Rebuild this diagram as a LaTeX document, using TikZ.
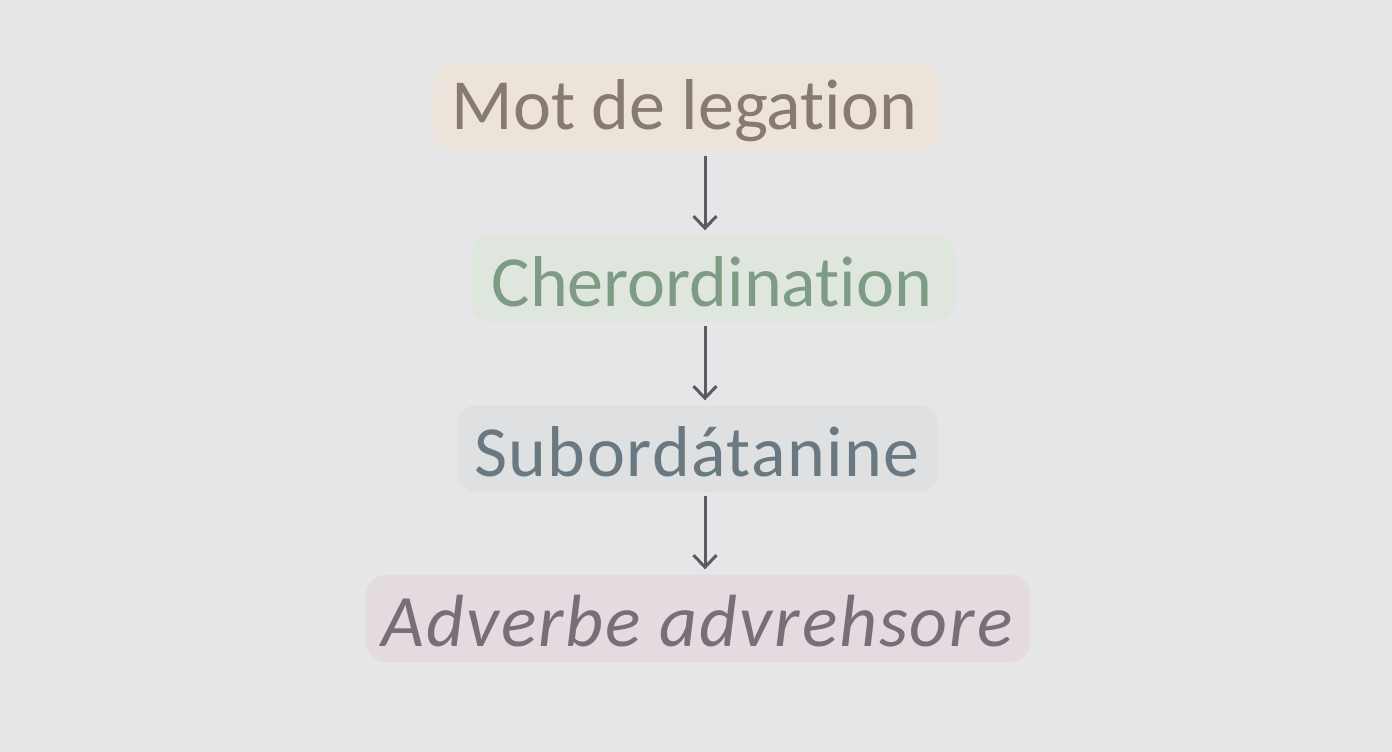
\documentclass[tikz,border=0pt]{standalone}
\usepackage{fontspec}
\setmainfont[Ligatures=NoCommon]{Carlito}
\usetikzlibrary{arrows.meta}
\definecolor{bg}{HTML}{E6E6E8}
\definecolor{fillA}{HTML}{ECE4DB}
\definecolor{textA}{HTML}{877B6F}
\definecolor{fillB}{HTML}{DFE6DE}
\definecolor{textB}{HTML}{7E9B84}
\definecolor{fillC}{HTML}{DEE0E1}
\definecolor{textC}{HTML}{6A7981}
\definecolor{fillD}{HTML}{E4DBE1}
\definecolor{textD}{HTML}{7A6D76}
\definecolor{arrowc}{HTML}{5C5C60}
\begin{document}
\begin{tikzpicture}[x=1pt,y=-1pt,
  box/.style={rounded corners=20pt, inner sep=0pt, font=\fontsize{72}{76}\selectfont},
  flow/.style={draw=arrowc, line width=3pt, -{Straight Barb[length=12pt,width=23pt,line width=3pt]}}]
\fill[bg] (0,0) rectangle (1392,752);
\useasboundingbox (0,0) rectangle (1392,752);
\fill[fillA, rounded corners=20pt] (433,63) rectangle (941,151);
\fill[fillB, rounded corners=20pt] (471,235) rectangle (955,322);
\fill[fillC, rounded corners=20pt] (457,405) rectangle (938,492);
\fill[fillD, rounded corners=20pt] (366,575) rectangle (1030,662);
\node[box, text=textA, minimum width=508pt, minimum height=88pt] (a) at (684.5,111) {Mot de legation};
\node[box, text=textB, minimum width=484pt, minimum height=87pt] (b) at (712,282) {Cherordination};
\node[box, text=textC, minimum width=481pt, minimum height=87pt, font=\fontsize{72}{76}\selectfont\addfontfeature{LetterSpace=2}] (c) at (697,452) {Subordátanine};
\node[box, text=textD, minimum width=664pt, minimum height=87pt, font=\fontsize{74}{78}\selectfont\itshape\addfontfeature{LetterSpace=2.6}] (d) at (697,621) {Adverbe advrehsore};
\draw[flow] ([yshift=-1pt]a.south -| 705,0) -- ([yshift=8pt]b.north -| 705,0);
\draw[flow] (b.south -| 705,0) -- ([yshift=8pt]c.north -| 705,0);
\draw[flow] (c.south -| 705,0) -- ([yshift=8pt]d.north -| 705,0);
\end{tikzpicture}
\end{document}
